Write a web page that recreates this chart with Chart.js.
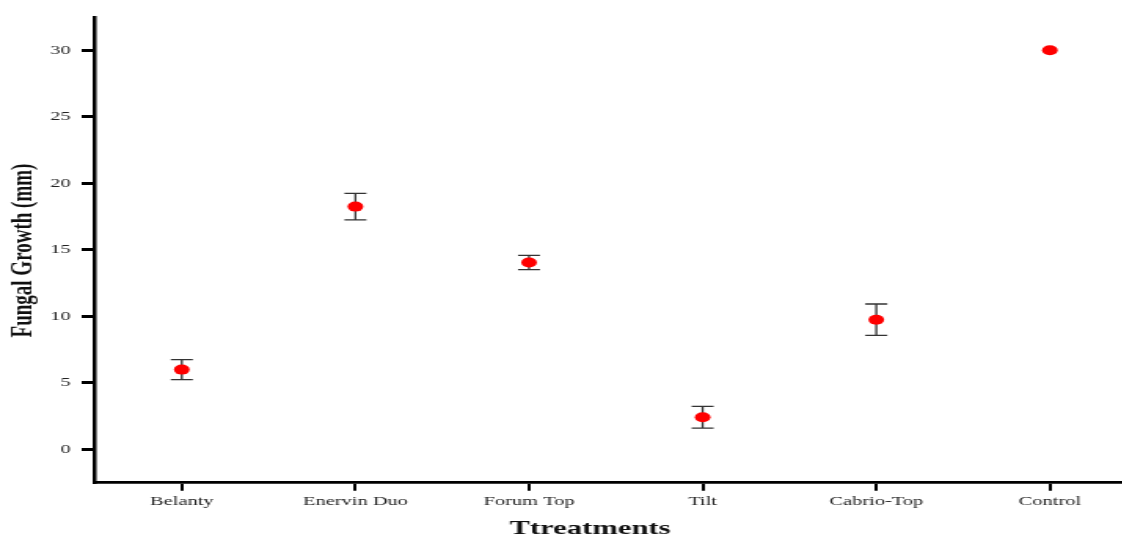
<!DOCTYPE html>
<html>
<head>
<meta charset="utf-8">
<script src="https://cdn.jsdelivr.net/npm/chart.js@4.4.0/dist/chart.umd.min.js"></script>
<style>
    html, body { margin: 0; padding: 0; background: #fff; overflow: hidden; }
    #wrap {
        width: 729px;
        height: 535px;
        transform: scaleX(1.57);
        transform-origin: 0 0;
    }
</style>
</head>
<body>
<div id="wrap"><canvas id="chart" width="729" height="535"></canvas></div>
<script>
// Data
const treatments = ['Belanty', 'Enervin Duo', 'Forum Top', 'Tilt', 'Cabrio-Top', 'Control'];
const growthMeans = [6.0, 18.25, 14.05, 2.42, 9.75, 30.0];
const growthErrors = [0.75, 1.0, 0.53, 0.82, 1.18, 0];
const yTicks = [0, 5, 10, 15, 20, 25, 30];

const serif = '"Liberation Serif", "Times New Roman", serif';

// Error bars, drawn from the scales behind the points
const errorBars = {
    id: 'errorBars',
    beforeDatasetsDraw(chart) {
        const ctx = chart.ctx;
        const xs = chart.scales.x;
        const ys = chart.scales.y;
        ctx.save();
        ctx.strokeStyle = '#333';
        ctx.lineWidth = 1.3;
        growthMeans.forEach((m, i) => {
            const e = growthErrors[i];
            if (!e) return;
            const x = xs.getPixelForValue(i);
            const top = ys.getPixelForValue(m + e);
            const bot = ys.getPixelForValue(m - e);
            ctx.beginPath();
            ctx.moveTo(x, top);
            ctx.lineTo(x, bot);
            ctx.moveTo(x - 7, top);
            ctx.lineTo(x + 7, top);
            ctx.moveTo(x - 7, bot);
            ctx.lineTo(x + 7, bot);
            ctx.stroke();
        });
        ctx.restore();
    }
};

// Axis titles
const axisTitles = {
    id: 'axisTitles',
    afterDraw(chart) {
        const ctx = chart.ctx;
        ctx.save();
        ctx.fillStyle = '#111';
        ctx.font = 'bold 19px ' + serif;
        ctx.textAlign = 'center';
        ctx.textBaseline = 'middle';
        ctx.translate(14.6, 250.5);
        ctx.rotate(-Math.PI / 2);
        ctx.fillText('Fungal Growth (mm)', 0, 0);
        ctx.restore();

        ctx.save();
        ctx.fillStyle = '#111';
        ctx.font = 'bold 19.5px ' + serif;
        ctx.textAlign = 'center';
        ctx.textBaseline = 'alphabetic';
        ctx.fillText('Ttreatments', 375.8, 534);
        ctx.restore();
    }
};

const ctx = document.getElementById('chart').getContext('2d');
new Chart(ctx, {
    type: 'line',
    data: {
        labels: treatments,
        datasets: [{
            data: growthMeans,
            showLine: false,
            pointRadius: 5,
            pointHoverRadius: 5,
            pointBackgroundColor: '#ff0000',
            pointBorderWidth: 0
        }]
    },
    options: {
        responsive: false,
        animation: false,
        devicePixelRatio: 1,
        events: [],
        layout: { padding: { top: 17, left: 0, right: 0, bottom: 0 } },
        plugins: {
            legend: { display: false },
            tooltip: { enabled: false }
        },
        scales: {
            x: {
                type: 'category',
                offset: true,
                afterFit: s => { s.height = 52.3; },
                grid: {
                    offset: false,
                    drawOnChartArea: false,
                    tickLength: 8,
                    lineWidth: 2,
                    color: '#000'
                },
                border: { display: true, color: '#000', width: 2.7 },
                ticks: {
                    color: '#222',
                    padding: 3.5,
                    font: { family: serif, size: 13 }
                }
            },
            y: {
                min: -2.5,
                max: 32.5,
                afterFit: s => { s.width = 60.5; },
                afterBuildTicks: s => { s.ticks = yTicks.map(v => ({ value: v })); },
                grid: {
                    drawOnChartArea: false,
                    tickLength: 8.5,
                    lineWidth: 3,
                    color: '#000'
                },
                border: { display: true, color: '#000', width: 2.5 },
                ticks: {
                    color: '#222',
                    padding: 7,
                    font: { family: serif, size: 13 }
                }
            }
        }
    },
    plugins: [errorBars, axisTitles]
});
</script>
</body>
</html>
